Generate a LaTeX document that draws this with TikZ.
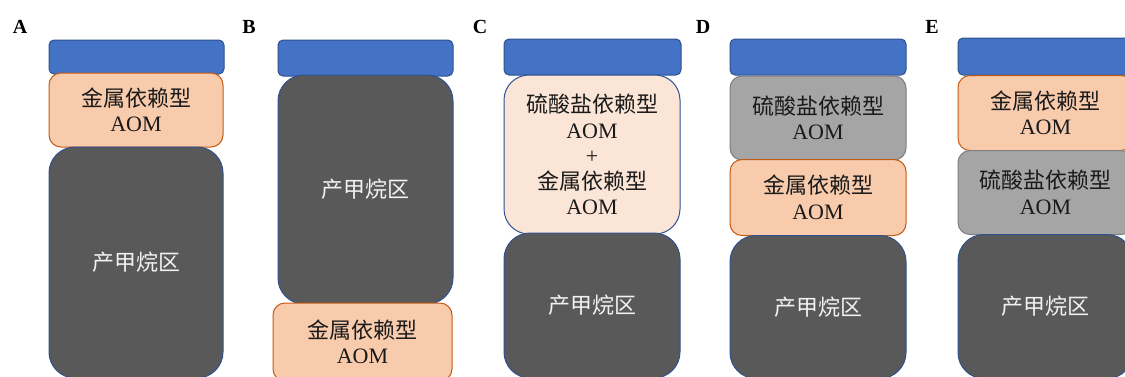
\documentclass[tikz,border=0pt]{standalone}
\usepackage{fontspec}
\setmainfont{Liberation Serif}
\newfontfamily\cjk{Noto Sans CJK SC}
\definecolor{bluefill}{HTML}{4472C4}
\definecolor{blueline}{HTML}{2F528F}
\definecolor{orafill}{HTML}{F8CBAD}
\definecolor{oraline}{HTML}{C55A11}
\definecolor{darkfill}{HTML}{595959}
\definecolor{grayfill}{HTML}{A5A5A5}
\definecolor{grayline}{HTML}{7F7F7F}
\definecolor{peachfill}{HTML}{FBE5D6}
\definecolor{txtdark}{HTML}{1A1A1A}
\definecolor{txtlight}{HTML}{F2F2F2}
\tikzset{
  layer/.style={draw, line width=1pt, inner sep=0pt, align=center,
    font=\fontsize{22}{25.5}\selectfont, text=txtdark},
  capbox/.style={layer, fill=bluefill, draw=blueline, rounded corners=5pt, minimum width=175pt},
  metalbox/.style={layer, fill=orafill, draw=oraline, rounded corners=12pt},
  sulfbox/.style={layer, fill=grayfill, draw=grayline, rounded corners=12pt},
  mixbox/.style={layer, fill=peachfill, draw=blueline, rounded corners=25pt},
  methbox/.style={layer, fill=darkfill, draw=blueline, rounded corners=26pt, text=txtlight},
  panel/.style={font=\fontsize{20}{22}\selectfont\bfseries, inner sep=0pt}
}
\begin{document}
\begin{tikzpicture}[x=1pt,y=-1pt]
\useasboundingbox[fill=white] (0,0) rectangle (1125,376);
% panel labels
\node[panel] (lA) at (20,27) {A};
\node[panel] (lB) at (249,27) {B};
\node[panel] (lC) at (480,27) {C};
\node[panel] (lD) at (703,27) {D};
\node[panel] (lE) at (932,27) {E};
% A
\node[capbox, minimum height=34pt] (a1) at (136.5,57) {};
\node[metalbox, minimum width=174pt, minimum height=74pt] (a2) at (136,110) {{\cjk 金属依赖型}\\AOM};
\node[methbox, minimum width=174pt, minimum height=231pt] (a3) at (136,262.5) {\cjk 产甲烷区};
% B
\node[capbox, minimum height=36pt] (b1) at (365.5,58) {};
\node[methbox, minimum width=175pt, minimum height=229pt] (b2) at (365.5,189.5) {\cjk 产甲烷区};
\node[metalbox, minimum width=179pt, minimum height=78pt] (b3) at (362.5,342) {{\cjk 金属依赖型}\\AOM};
% C
\node[capbox, minimum width=177pt, minimum height=36pt] (c1) at (592.5,57) {};
\node[mixbox, minimum width=176pt, minimum height=159pt] (c2) at (592,154.5) {{\cjk 硫酸盐依赖型}\\AOM\\+\\{\cjk 金属依赖型}\\AOM};
\node[methbox, minimum width=176pt, minimum height=145pt] (c3) at (592,305.5) {\cjk 产甲烷区};
% D
\node[capbox, minimum width=176pt, minimum height=36pt] (d1) at (818,57) {};
\node[sulfbox, minimum width=176pt, minimum height=84pt] (d2) at (818,118) {{\cjk 硫酸盐依赖型}\\AOM};
\node[metalbox, minimum width=176pt, minimum height=76pt] (d3) at (818,197.5) {{\cjk 金属依赖型}\\AOM};
\node[methbox, minimum width=176pt, minimum height=143pt] (d4) at (818,307) {\cjk 产甲烷区};
% E
\node[capbox, minimum width=175pt, minimum height=37pt] (e1) at (1045.5,56.5) {};
\node[metalbox, minimum width=175pt, minimum height=75pt] (e2) at (1045.5,113) {{\cjk 金属依赖型}\\AOM};
\node[sulfbox, minimum width=175pt, minimum height=84pt] (e3) at (1045.5,192.5) {{\cjk 硫酸盐依赖型}\\AOM};
\node[methbox, minimum width=175pt, minimum height=144pt] (e4) at (1045.5,306.5) {\cjk 产甲烷区};
\end{tikzpicture}
\end{document}
